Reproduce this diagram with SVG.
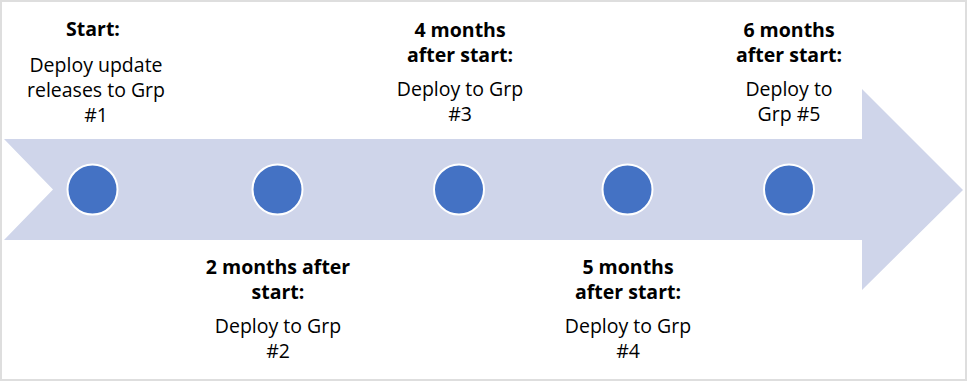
<svg xmlns="http://www.w3.org/2000/svg" width="968" height="382" viewBox="0 0 968 382">
<style>
  .frame{fill:#ffffff;stroke:#dedede;stroke-width:2}
  .arrow{fill:#cfd5ea}
  .dot{fill:#4472c4;stroke:#ffffff;stroke-width:2}
  text{font-family:"Open Sans","Noto Sans","Liberation Sans",sans-serif;font-size:19.5px;fill:#000000;text-anchor:middle}
  .b{font-weight:bold;font-size:19.5px}
</style>
<rect class="frame" x="1" y="1" width="965" height="379"/>
<g id="connectors">
  <path id="timeline-arrow" class="arrow" d="M4,139 L862,139 L862,89 L963,190 L862,290 L862,240 L4,240 L53,189.5 Z"/>
</g>
<g id="m0">
  <circle class="dot" cx="92.5" cy="189.5" r="25"/>
  <text class="b" x="93" y="36">Start:</text>
  <text x="96" y="72">Deploy update</text>
  <text x="96" y="97">releases to Grp</text>
  <text x="96" y="122">#1</text>
</g>
<g id="m1">
  <circle class="dot" cx="277.5" cy="189.5" r="25"/>
  <text class="b" x="278" y="274">2 months after</text>
  <text class="b" x="278" y="299">start:</text>
  <text x="278" y="333">Deploy to Grp</text>
  <text x="278" y="358">#2</text>
</g>
<g id="m2">
  <circle class="dot" cx="459" cy="189.5" r="25"/>
  <text class="b" x="460" y="37">4 months</text>
  <text class="b" x="460" y="62">after start:</text>
  <text x="460" y="96">Deploy to Grp</text>
  <text x="460" y="121">#3</text>
</g>
<g id="m3">
  <circle class="dot" cx="627.5" cy="189.5" r="25"/>
  <text class="b" x="628" y="274">5 months</text>
  <text class="b" x="628" y="299">after start:</text>
  <text x="628" y="333">Deploy to Grp</text>
  <text x="628" y="358">#4</text>
</g>
<g id="m4">
  <circle class="dot" cx="789" cy="189.5" r="25"/>
  <text class="b" x="789" y="37">6 months</text>
  <text class="b" x="789" y="62">after start:</text>
  <text x="789" y="96">Deploy to</text>
  <text x="789" y="121">Grp #5</text>
</g>
</svg>
